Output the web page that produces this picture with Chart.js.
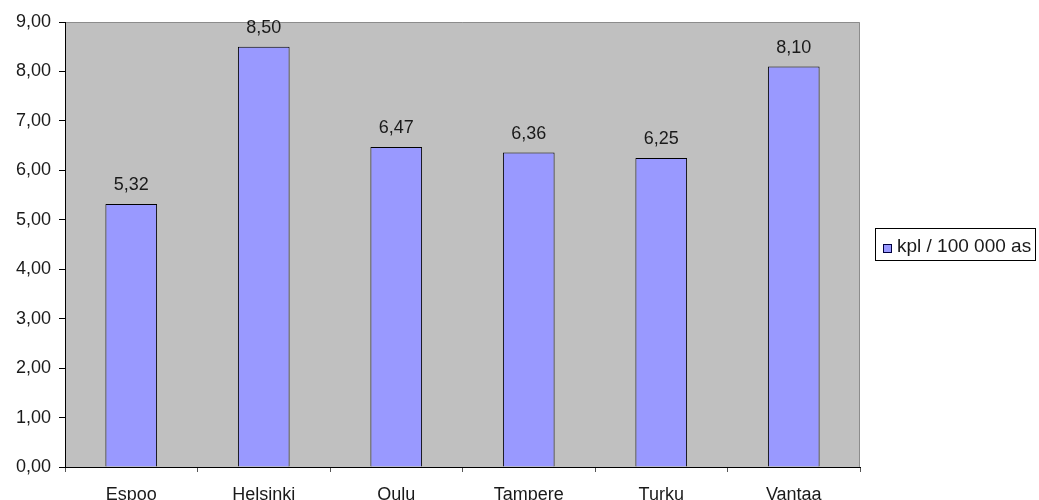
<!DOCTYPE html>
<html><head><meta charset="utf-8">
<script src="https://cdn.jsdelivr.net/npm/chart.js@4/dist/chart.umd.min.js"></script>
<style>html,body{margin:0;padding:0;background:#fff}#wrap{width:1039px;height:500px}</style>
</head><body><div id="wrap"><canvas id="c" width="1039" height="500"></canvas></div>
<script>
const categories = ['Espoo','Helsinki','Oulu','Tampere','Turku','Vantaa'];
const values = [5.32, 8.50, 6.47, 6.36, 6.25, 8.10];
const seriesLabel = 'kpl / 100 000 as';
const yMin = 0, yMax = 9, yStep = 1;

const fmt = v => v.toFixed(2).replace('.', ',');
const FONT = 'Liberation Sans, Arial, sans-serif';

const bgPlugin = {
  id: 'bg',
  beforeDraw(chart) {
    const {ctx, chartArea: a} = chart;
    ctx.save();
    ctx.fillStyle = '#C0C0C0';
    ctx.fillRect(a.left, a.top, a.right - a.left, a.bottom - a.top);
    ctx.strokeStyle = '#8c8c8c';
    ctx.lineWidth = 1;
    ctx.beginPath();
    ctx.moveTo(a.left, a.top + 0.5);
    ctx.lineTo(a.right - 0.5, a.top + 0.5);
    ctx.lineTo(a.right - 0.5, a.bottom);
    ctx.stroke();
    ctx.restore();
  },
  afterDatasetsDraw(chart) {
    const {ctx} = chart;
    const meta = chart.getDatasetMeta(0);
    ctx.save();
    ctx.fillStyle = '#1a1a1a';
    ctx.font = '18px ' + FONT;
    ctx.textAlign = 'center';
    ctx.textBaseline = 'alphabetic';
    meta.data.forEach((bar, i) => {
      ctx.fillText(fmt(chart.data.datasets[0].data[i]), bar.x, bar.y - 14);
    });
    // legend
    const ds = chart.data.datasets[0];
    const lx = 875, ly = 228, lw = 160, lh = 32;
    ctx.fillStyle = '#fff';
    ctx.fillRect(lx, ly, lw, lh);
    ctx.strokeStyle = '#000';
    ctx.lineWidth = 1;
    ctx.strokeRect(lx + 0.5, ly + 0.5, lw, lh);
    ctx.fillStyle = ds.backgroundColor;
    ctx.fillRect(883, 244, 8, 8);
    ctx.strokeStyle = '#000040';
    ctx.strokeRect(883.5, 244.5, 8, 8);
    ctx.fillStyle = '#1a1a1a';
    ctx.font = '19px ' + FONT;
    ctx.textAlign = 'left';
    ctx.textBaseline = 'alphabetic';
    ctx.fillText(ds.label, 897, 252);
    ctx.restore();
  }
};

new Chart(document.getElementById('c'), {
  type: 'bar',
  data: {
    labels: categories,
    datasets: [{
      label: seriesLabel,
      data: values,
      backgroundColor: '#9999FF',
      borderColor: '#000000',
      borderWidth: 1,
      categoryPercentage: 1,
      barPercentage: 0.39
    }]
  },
  options: {
    responsive: false,
    animation: false,
    layout: {padding: {left: 0, right: 179, top: 22, bottom: 0}},
    plugins: {legend: {display: false}, tooltip: {enabled: false}},
    scales: {
      x: {
        grid: {display: true, offset: true, drawOnChartArea: false, tickLength: 5, color: '#555'},
        border: {color: '#000', width: 1},
        ticks: {font: {family: FONT, size: 18}, color: '#1a1a1a', padding: 12},
        afterFit(s) { s.height = 33; }
      },
      y: {
        min: yMin, max: yMax,
        grid: {display: true, drawOnChartArea: false, tickLength: 6, color: '#000'},
        border: {color: '#000', width: 1},
        ticks: {stepSize: yStep, font: {family: FONT, size: 18}, color: '#1a1a1a', padding: 8,
          callback: v => fmt(v)},
        afterFit(s) { s.width = 65; }
      }
    }
  },
  plugins: [bgPlugin]
});
</script></body></html>
